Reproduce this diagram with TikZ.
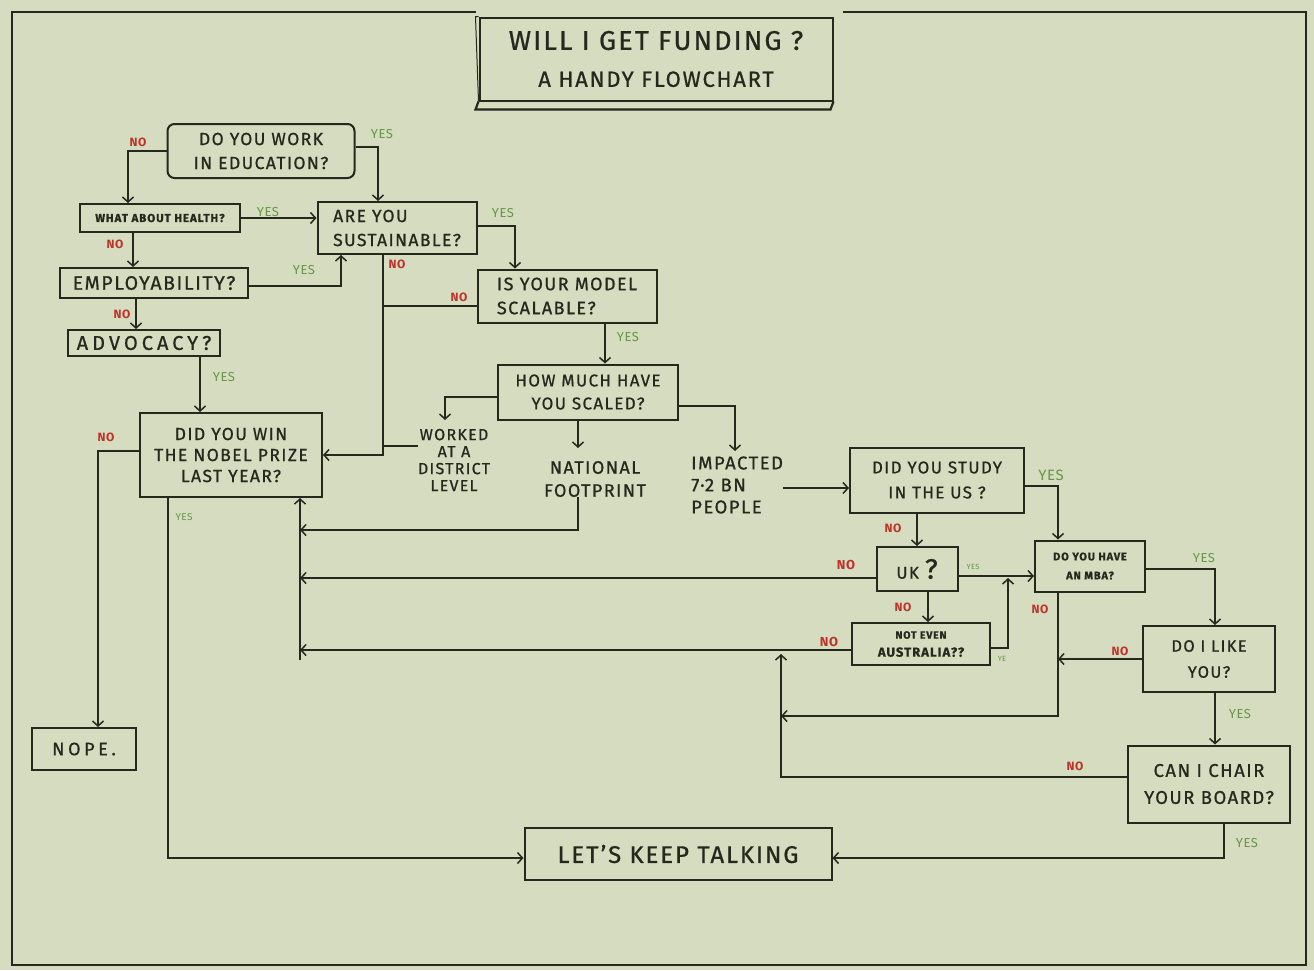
\documentclass[tikz,border=0pt]{standalone}
\usepackage{fontspec}
\setmainfont{Fira Sans}
\newfontfamily\hand[LetterSpace=8,FakeBold=0.8]{Fira Sans}
\newfontfamily\handw[LetterSpace=20,FakeBold=0.8]{Fira Sans}
\newfontfamily\handl[LetterSpace=4]{Fira Sans}
\usetikzlibrary{arrows.meta}
\definecolor{bg}{RGB}{213,220,192}
\definecolor{ink}{RGB}{38,40,30}
\definecolor{nored}{RGB}{190,50,40}
\definecolor{yesgreen}{RGB}{104,150,72}
\tikzset{
  box/.style={draw=ink, line width=2pt, inner sep=0pt, text=ink},
  txt/.style={inner sep=0pt, text=ink},
  link/.style={draw=ink, line width=1.8pt},
  arr/.style={link, -{Straight Barb[length=5pt,width=11pt,line width=1.5pt]}},
  nolab/.style={inner sep=0pt, text=nored, font=\handl\fontsize{12}{12}\selectfont\bfseries},
  yeslab/.style={inner sep=0pt, text=yesgreen, font=\handl\fontsize{13}{13}\selectfont},
  frame/.style={draw=ink, line width=1.8pt},
}
\begin{document}
\begin{tikzpicture}[x=1pt,y=-1pt]
\fill[bg] (0,0) rectangle (1314,970);
\useasboundingbox (0,0) rectangle (1314,970);
% frame
\draw[frame] (476,12) -- (12,12) -- (12,965) -- (1306,965) -- (1306,12) -- (843,12);
% title
\node[box, minimum width=353pt, minimum height=83pt, align=center,
      font=\hand\fontsize{27}{37}\selectfont] (title) at (656,59)
      {WILL I GET FUNDING ?\\{\fontsize{22}{22}\selectfont A HANDY FLOWCHART}};
\draw[frame, line width=2.2pt] (title.south west) -- ++(-3,8) -- ([xshift=-3pt,yshift=-8pt]title.south east) -- (title.south east);
\draw[frame, line width=1pt] (title.south west) -- ([xshift=-3pt]title.north west) -- (title.north west);

% nodes
\node[box, rounded corners=7pt, minimum width=187pt, minimum height=54pt, align=center,
      font=\hand\fontsize{17.5}{24}\selectfont] (edu) at (261,151) {DO YOU WORK\\IN EDUCATION?};
\node[box, minimum width=160pt, minimum height=28pt,
      font=\hand\fontsize{11.5}{12}\selectfont\bfseries] (health) at (160,218) {WHAT ABOUT HEALTH?};
\node[box, minimum width=159pt, minimum height=52pt, align=left,
      font=\hand\fontsize{17.5}{24}\selectfont] (sus) at (397,228) {ARE YOU\\SUSTAINABLE?};
\node[box, minimum width=188pt, minimum height=30pt,
      font=\hand\fontsize{19.5}{19.5}\selectfont] (emp) at (154,283) {EMPLOYABILITY?};
\node[box, minimum width=152pt, minimum height=26pt,
      font=\handw\fontsize{20}{20}\selectfont] (adv) at (144,343) {ADVOCACY?};
\node[box, minimum width=179pt, minimum height=53pt, align=left,
      font=\hand\fontsize{18}{24}\selectfont] (scal) at (567,296) {IS YOUR MODEL\\SCALABLE?};
\node[box, minimum width=180pt, minimum height=55pt, align=center,
      font=\hand\fontsize{17}{23}\selectfont] (much) at (588,392) {HOW MUCH HAVE\\YOU SCALED?};
\node[txt, align=center, font=\hand\fontsize{16}{17}\selectfont] (dist) at (454,460)
      {WORKED\\AT A\\DISTRICT\\LEVEL};
\node[txt, align=center, font=\hand\fontsize{18}{23}\selectfont] (nat) at (595,479)
      {NATIONAL\\FOOTPRINT};
\node[txt, anchor=west, align=left, font=\hand\fontsize{18.5}{22}\selectfont] (imp) at (691,485)
      {IMPACTED\\7·2 BN\\PEOPLE};
\node[box, minimum width=182pt, minimum height=84pt, align=center,
      font=\hand\fontsize{17.5}{21}\selectfont] (nobel) at (231,455)
      {DID YOU WIN\\THE NOBEL PRIZE\\LAST YEAR?};
\node[box, minimum width=104pt, minimum height=42pt,
      font=\handw\fontsize{18}{18}\selectfont] (nope) at (84,749) {NOPE.};
\node[box, minimum width=174pt, minimum height=65pt, align=center,
      font=\hand\fontsize{17}{25}\selectfont] (us) at (937,480) {DID YOU STUDY\\IN THE US ?};
\node[box, minimum width=81pt, minimum height=44pt,
      font=\hand\fontsize{17}{17}\selectfont] (uk) at (917,569) {UK {\fontsize{28}{28}\selectfont ?}};
\node[box, minimum width=110pt, minimum height=51pt, align=center,
      font=\hand\fontsize{11}{19}\selectfont\bfseries] (mba) at (1090,566) {DO YOU HAVE\\AN MBA?};
\node[box, minimum width=138pt, minimum height=42pt, align=center,
      font=\hand\fontsize{13}{18}\selectfont\bfseries] (aus) at (921,644) {{\fontsize{10.5}{10.5}\selectfont NOT EVEN}\\AUSTRALIA??};
\node[box, minimum width=132pt, minimum height=66pt, align=center,
      font=\hand\fontsize{16.5}{26}\selectfont] (like) at (1209,659) {DO I LIKE\\YOU?};
\node[box, minimum width=162pt, minimum height=77pt, align=center,
      font=\hand\fontsize{18.5}{27}\selectfont] (chair) at (1209,784) {CAN I CHAIR\\YOUR BOARD?};
\node[box, minimum width=307pt, minimum height=52pt,
      font=\hand\fontsize{24}{24}\selectfont] (talk) at (678,854) {LET’S KEEP TALKING};

% connectors
\draw[arr] (edu.west) -| (health.north -| 128,0);
\draw[arr] (edu.east |- 0,147) -| (sus.north -| 378,0);
\draw[arr] (health.east) -- (sus.west |- health.east);
\draw[arr] (health.south -| 133,0) -- (emp.north -| 133,0);
\draw[arr] (emp.east |- 0,286) -| (sus.south -| 341,0);
\draw[arr] (emp.south -| 136,0) -- (adv.north -| 136,0);
\draw[arr] (adv.south -| 200,0) -- (nobel.north -| 200,0);
\draw[arr] (sus.east |- 0,226) -| (scal.north -| 515,0);
\draw[arr] (sus.south -| 383,0) |- (nobel.east);
\draw[link] (scal.west |- 0,306) -- (383,306);
\draw[arr] (scal.south -| 605,0) -- (much.north -| 605,0);
\draw[arr] (much.west |- 0,397) -| (445,420);
\draw[arr] (much.south -| 578,0) -- (578,448);
\draw[arr] (much.east |- 0,406) -| (735,451);
\draw[arr] (imp.east |- 0,488) -- (us.west |- 0,488);
\draw[link] (dist.west |- 0,446) -- (383,446);
\coordinate (j1) at (300,530);
\coordinate (j2) at (300,578);
\coordinate (j3) at (300,650);
\coordinate (jb) at (300,660);
\draw[arr] (nat.south -| 578,0) |- (j1);
\draw[arr] (jb) -- (nobel.south -| 300,0);
\draw[arr] (uk.west |- 0,578) -- (j2);
\draw[arr] (aus.west |- 0,650) -- (j3);
\draw[arr] (us.south -| 917,0) -- (uk.north -| 917,0);
\draw[arr] (us.east |- 0,486) -| (mba.north -| 1058,0);
\draw[arr] (uk.east |- 0,576) -- (mba.west |- 0,576);
\draw[arr] (aus.east |- 0,648) -| (1008,578);
\draw[arr] (uk.south -| 928,0) -- (aus.north -| 928,0);
\coordinate (k1) at (781,716);
\coordinate (k2) at (781,654);
\draw[arr] (mba.south -| 1058,0) |- (k1);
\draw[arr] (mba.east |- 0,569) -| (like.north -| 1215,0);
\draw[arr] (like.west) -- (1058,659);
\draw[arr] (like.south -| 1215,0) -- (chair.north -| 1215,0);
\draw[arr] (chair.west |- 0,777) -| (k2);
\draw[arr] (chair.south -| 1224,0) |- (talk.east |- 0,858);
\draw[arr] (nobel.west |- 0,451) -| (nope.north -| 98,0);
\draw[arr] (nobel.south -| 168,0) |- (talk.west |- 0,858);

% labels
\node[nolab] (n1) at (138,142) {NO};
\node[yeslab] (y1) at (382,134) {YES};
\node[yeslab] (y2) at (268,212) {YES};
\node[nolab] (n2) at (115,244) {NO};
\node[yeslab] (y3) at (304,270) {YES};
\node[nolab] (n3) at (122,314) {NO};
\node[yeslab] (y4) at (224,377) {YES};
\node[yeslab] (y5) at (503,213) {YES};
\node[nolab] (n4) at (397,264) {NO};
\node[nolab] (n5) at (459,297) {NO};
\node[yeslab] (y6) at (628,337) {YES};
\node[nolab] (n6) at (106,437) {NO};
\node[yeslab, font=\handl\fontsize{10}{10}\selectfont] (y7) at (184,517) {YES};
\node[yeslab, font=\handl\fontsize{15}{15}\selectfont] (y8) at (1051,475) {YES};
\node[nolab] (n7) at (893,528) {NO};
\node[nolab, font=\handl\fontsize{13}{13}\selectfont\bfseries] (n8) at (846,565) {NO};
\node[yeslab, font=\handl\fontsize{7.5}{7.5}\selectfont] (y9) at (973,567) {YES};
\node[nolab] (n9) at (903,607) {NO};
\node[nolab, font=\handl\fontsize{13}{13}\selectfont\bfseries] (n10) at (829,642) {NO};
\node[yeslab, font=\handl\fontsize{7.5}{7.5}\selectfont] (y10) at (1002,659) {YE};
\node[nolab] (n11) at (1040,609) {NO};
\node[yeslab] (y11) at (1204,558) {YES};
\node[nolab] (n12) at (1120,651) {NO};
\node[yeslab] (y12) at (1240,714) {YES};
\node[nolab] (n13) at (1075,766) {NO};
\node[yeslab] (y13) at (1247,843) {YES};
\end{tikzpicture}
\end{document}
